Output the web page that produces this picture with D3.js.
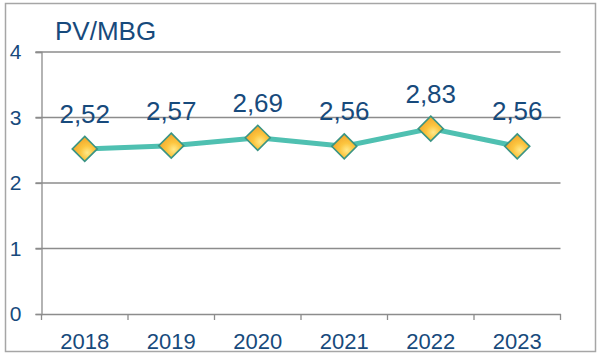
<!DOCTYPE html>
<html lang="en">
<head>
    <meta charset="UTF-8">
    <title>PV/MBG</title>
    <script src="https://cdn.jsdelivr.net/npm/d3@7"></script>
    <style>
        body { margin: 0; background: #fff; }
        text { font-family: "Liberation Sans", Arial, sans-serif; fill: #174a7c; }
    </style>
</head>
<body>
<div id="chart"></div>
<script>
    // data
    var years = ["2018", "2019", "2020", "2021", "2022", "2023"];
    var values = [2.52, 2.57, 2.69, 2.56, 2.83, 2.56];
    var valueLabels = ["2,52", "2,57", "2,69", "2,56", "2,83", "2,56"];
    var yTicks = [0, 1, 2, 3, 4];

    var width = 600, height = 354;
    var margin = {left: 41.5, right: 39.5, top: 52, bottom: 40};

    var svg = d3.select('#chart')
                .append('svg')
                .attr('width', width)
                .attr('height', height);

    // gold fill for the diamonds, light spot low right
    var grad = svg.append('defs').append('radialGradient')
        .attr('id', 'gold')
        .attr('cx', '60%').attr('cy', '65%').attr('r', '55%');
    grad.append('stop').attr('offset', '0%').attr('stop-color', '#ffe98a');
    grad.append('stop').attr('offset', '50%').attr('stop-color', '#fcc640');
    grad.append('stop').attr('offset', '100%').attr('stop-color', '#f4ad30');

    // outer frame
    svg.append('rect')
        .attr('x', 5.5).attr('y', 3.5)
        .attr('width', 590).attr('height', 348)
        .attr('fill', 'none')
        .attr('stroke', '#a6a6a6')
        .attr('stroke-width', 1.5);

    var x = d3.scaleBand()
              .domain(years)
              .range([margin.left, width - margin.right]);

    var y = d3.scaleLinear()
              .domain([0, 4])
              .range([height - margin.bottom, margin.top]);

    // gridlines
    svg.append('g')
        .selectAll('line')
        .data(yTicks.filter(function(d) { return d > 0; }))
        .join('line')
        .attr('x1', margin.left - 6)
        .attr('x2', width - margin.right)
        .attr('y1', function(d) { return y(d); })
        .attr('y2', function(d) { return y(d); })
        .attr('stroke', '#8c8c8c')
        .attr('stroke-width', 1.3);

    // y axis
    var yAxis = svg.append('g')
        .attr('transform', 'translate(' + margin.left + ',0)')
        .call(d3.axisLeft(y).tickValues(yTicks).tickSize(6).tickPadding(14).tickFormat(d3.format('d')));
    yAxis.select('.domain').attr('stroke', '#8c8c8c').attr('stroke-width', 1.3);
    yAxis.selectAll('.tick line').attr('stroke', '#8c8c8c').attr('stroke-width', 1.3);
    yAxis.selectAll('.tick text')
        .style('font-size', '21px')
        .attr('fill', '#174a7c');

    // x axis
    var xAxis = svg.append('g')
        .attr('transform', 'translate(0,' + y(0) + ')')
        .call(d3.axisBottom(x).tickSize(0).tickPadding(19));
    xAxis.select('.domain').attr('stroke', '#8c8c8c').attr('stroke-width', 1.3);
    xAxis.selectAll('.tick text')
        .style('font-size', '22px')
        .attr('fill', '#174a7c');

    // category separators below the axis
    var bounds = years.map(function(d) { return x(d); }).concat([width - margin.right]);
    svg.append('g')
        .selectAll('line')
        .data(bounds)
        .join('line')
        .attr('x1', function(d) { return d; })
        .attr('x2', function(d) { return d; })
        .attr('y1', y(0))
        .attr('y2', y(0) + 6)
        .attr('stroke', '#8c8c8c')
        .attr('stroke-width', 1.3);

    // title
    svg.append('text')
        .attr('x', 55)
        .attr('y', 40)
        .style('font-size', '26px')
        .text('PV/MBG');

    var cx = function(i) { return x(years[i]) + x.bandwidth() / 2; };

    var line = d3.line()
        .x(function(d, i) { return cx(i); })
        .y(function(d) { return y(d); });

    svg.append('path')
        .datum(values)
        .attr('d', line)
        .attr('fill', 'none')
        .attr('stroke', '#4fc0b1')
        .attr('stroke-width', 5);

    // diamond markers
    svg.append('g')
        .selectAll('path')
        .data(values)
        .join('path')
        .attr('transform', function(d, i) { return 'translate(' + cx(i) + ',' + y(d) + ')'; })
        .attr('d', 'M0,-12.5L12.5,0L0,12.5L-12.5,0Z')
        .attr('fill', 'url(#gold)')
        .attr('stroke', '#3a9484')
        .attr('stroke-width', 1.6);

    // value labels
    svg.append('g')
        .selectAll('text')
        .data(values)
        .join('text')
        .attr('x', function(d, i) { return cx(i); })
        .attr('y', function(d) { return y(d) - 26; })
        .attr('text-anchor', 'middle')
        .style('font-size', '26px')
        .text(function(d, i) { return valueLabels[i]; });
</script>
</body>
</html>
